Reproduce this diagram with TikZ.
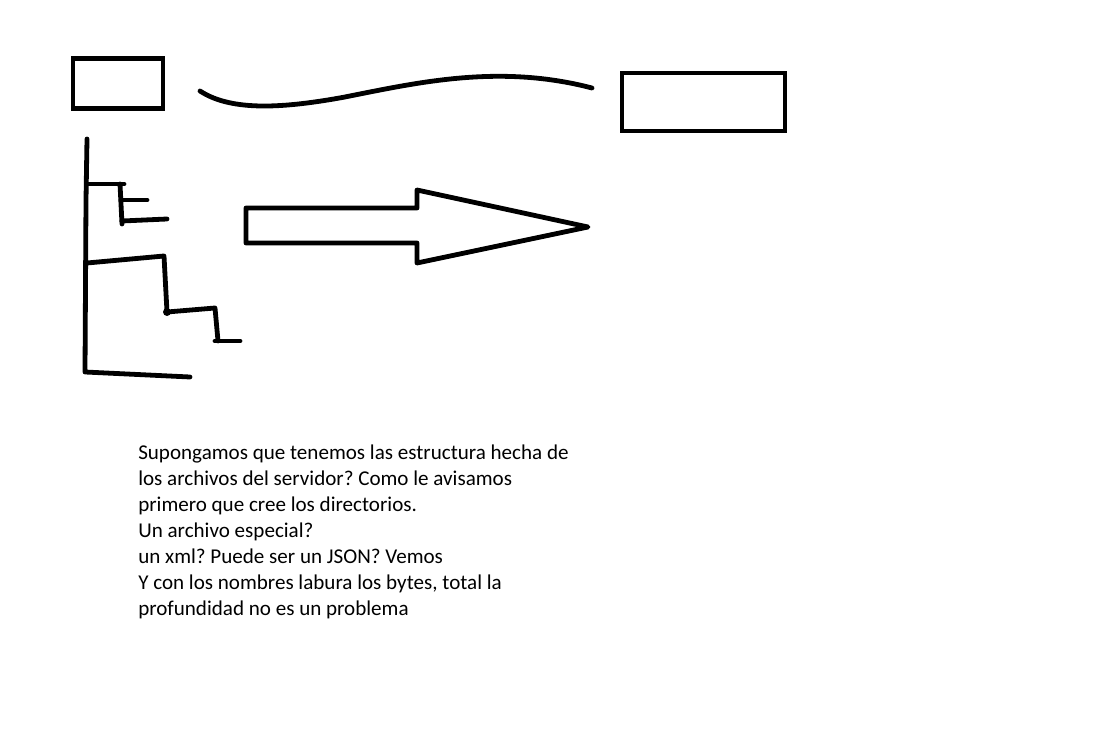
\documentclass[tikz,border=0pt]{standalone}
\usepackage{fontspec}
\setmainfont{Carlito}
\frenchspacing
\begin{document}
\begin{tikzpicture}[x=0.75pt,y=-0.75pt,
  pen/.style={line width=3.6pt,line cap=round,line join=round},
  box/.style={draw,line width=3.6pt,inner sep=0pt,rectangle},
  note/.style={align=left,inner sep=0pt,anchor=north west,font=\fontsize{15.8pt}{19.5pt}\selectfont}]
\useasboundingbox[fill=white] (0,0) rectangle (1119,741);
% boxes
\node[box,minimum width=67.5pt,minimum height=37.5pt] (b1) at (118,83.5) {};
\node[box,minimum width=122.25pt,minimum height=43.5pt] (b2) at (703.5,102) {};
% wavy line
\coordinate (w1) at (200,91);
\coordinate (w2) at (592,88);
\draw[pen] (w1) .. controls (232,112) and (285,108) .. (345,97)
  .. controls (420,82) and (500,64) .. (w2);
% tree
\coordinate (t0) at (87,139);
\coordinate (tb) at (85,372);
\coordinate (te) at (190,377);
\draw[pen] (t0) -- (86,200) -- (tb) -- (te);
\draw[pen] (87,184) -- (124,184);
\draw[pen] (120,184) -- (122,224);
\draw[pen] (121,200) -- (147,200);
\draw[pen] (122,221) -- (167,219);
\draw[pen] (87,263) -- (164,256) -- (167,312) -- (215,308) -- (218,341);
\draw[pen] (215,341) -- (240,341);
\fill (167,312) circle (3pt);
% block arrow
\draw[line width=3.6pt,line join=round] (246,208) -- (417,208) -- (417,190) -- (588,227)
  -- (417,263) -- (417,243) -- (246,243) -- cycle;
% text
\node[note] (txt) at (138,445) {Supongamos que tenemos las estructura hecha de\\
los archivos del servidor? Como le avisamos\\
primero que cree los directorios.\\
Un archivo especial?\\
un xml? Puede ser un JSON? Vemos\\
Y con los nombres labura los bytes, total la\\
profundidad no es un problema};
\end{tikzpicture}
\end{document}
